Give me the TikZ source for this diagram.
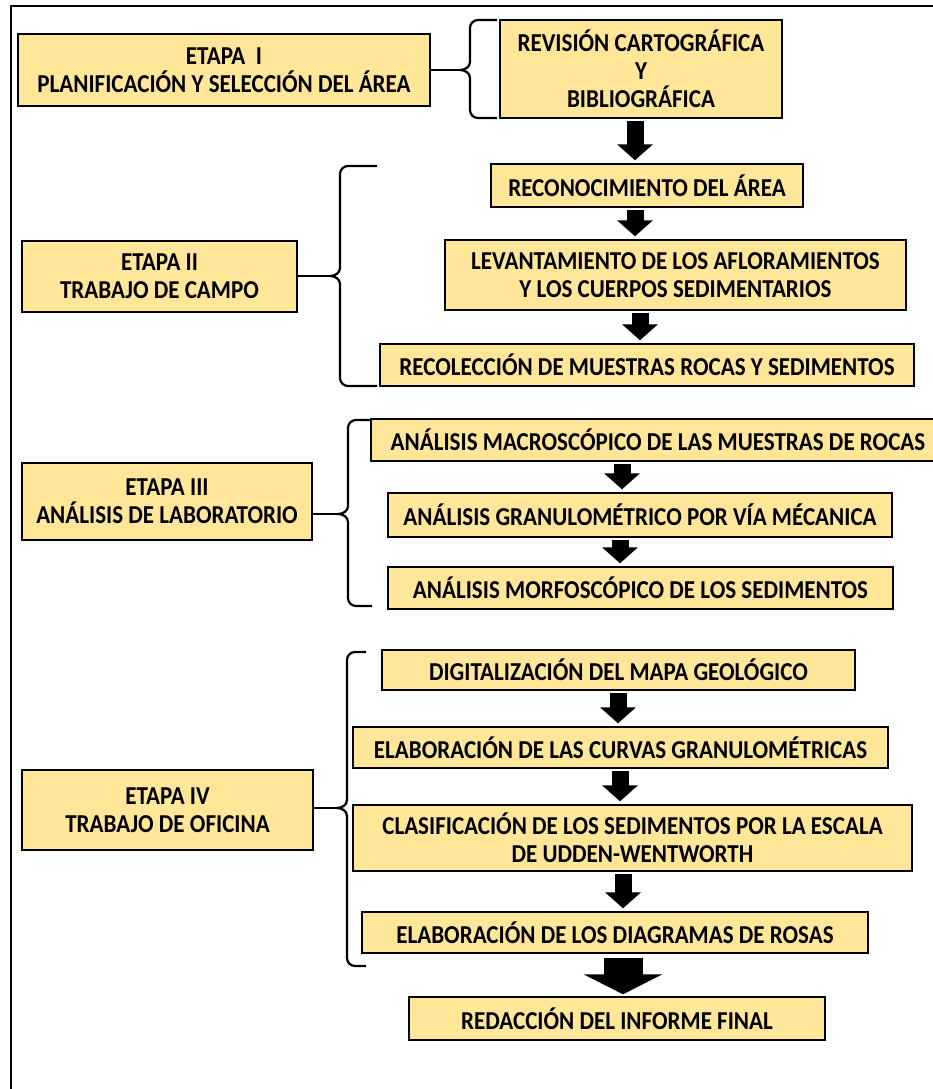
\documentclass[tikz,border=0pt]{standalone}
\usepackage{fontspec}
\setmainfont{Carlito}
\newfontfamily\boxfont[FakeStretch=0.893]{Carlito}
\usetikzlibrary{arrows.meta}
\definecolor{boxfill}{HTML}{FFE699}
\tikzset{
  box/.style={draw=black, fill=boxfill, line width=1.4pt, align=center, inner sep=0pt,
    font=\boxfont\fontsize{25.8}{28}\selectfont\bfseries},
  arr/.style={line width=17pt, -{Triangle[width=35pt,length=16pt]}, shorten >=3pt, shorten <=2pt},
  bigarr/.style={line width=39pt, -{Triangle[width=78pt,length=20pt]}, shorten >=2pt, shorten <=4pt},
  br/.style={line width=2.2pt, black},
  frame/.style={line width=2.4pt, black}
}
\begin{document}
\begin{tikzpicture}[x=1pt,y=-1pt]
\useasboundingbox (0,0) rectangle (933,1089);
\draw[frame] (11,1089) -- (11,6) -- (933,6);
% boxes
\node[box, minimum width=412, minimum height=72] (e1) at (224,70) {ETAPA\ \ I\\PLANIFICACIÓN Y SELECCIÓN DEL ÁREA};
\node[box, minimum width=282, minimum height=98] (rev) at (641,69) {REVISIÓN CARTOGRÁFICA\\Y\\BIBLIOGRÁFICA};
\node[box, minimum width=312, minimum height=43] (rec) at (647,185.5) {RECONOCIMIENTO DEL ÁREA};
\node[box, minimum width=461, minimum height=70] (lev) at (675.5,275) {LEVANTAMIENTO DE LOS AFLORAMIENTOS\\Y LOS CUERPOS SEDIMENTARIOS};
\node[box, minimum width=534, minimum height=42] (rcl) at (647,365) {RECOLECCIÓN DE MUESTRAS ROCAS Y SEDIMENTOS};
\node[box, minimum width=275, minimum height=71] (e2) at (159.5,276.5) {ETAPA II\\TRABAJO DE CAMPO};
\node[box, minimum width=290, minimum height=77] (e3) at (167,501.5) {ETAPA III\\ANÁLISIS DE LABORATORIO};
\node[box, minimum width=574, minimum height=42] (mac) at (658,440) {ANÁLISIS MACROSCÓPICO DE LAS MUESTRAS DE ROCAS};
\node[box, minimum width=504, minimum height=44] (gra) at (640,515) {ANÁLISIS GRANULOMÉTRICO POR VÍA MÉCANICA};
\node[box, minimum width=505, minimum height=42] (mor) at (640.5,588) {ANÁLISIS MORFOSCÓPICO DE LOS SEDIMENTOS};
\node[box, minimum width=291, minimum height=80] (e4) at (167.5,810) {ETAPA IV\\TRABAJO DE OFICINA};
\node[box, minimum width=473, minimum height=40] (dig) at (618.5,670) {DIGITALIZACIÓN DEL MAPA GEOLÓGICO};
\node[box, minimum width=535, minimum height=41] (cur) at (620.5,747.5) {ELABORACIÓN DE LAS CURVAS GRANULOMÉTRICAS};
\node[box, minimum width=559, minimum height=66] (cla) at (632.5,838) {CLASIFICACIÓN DE LOS SEDIMENTOS POR LA ESCALA\\DE UDDEN-WENTWORTH};
\node[box, minimum width=506, minimum height=41] (dia) at (615,932.5) {ELABORACIÓN DE LOS DIAGRAMAS DE ROSAS};
\node[box, minimum width=416, minimum height=43] (red) at (617,1018.5) {REDACCIÓN DEL INFORME FINAL};
% arrows
\draw[arr] (rev.south -| 635,0) -- (rec.north -| 635,0);
\draw[arr] (rec.south -| 635,0) -- (lev.north -| 635,0);
\draw[arr] (lev.south -| 640,0) -- (rcl.north -| 640,0);
\draw[arr] (mac.south -| 622,0) -- (gra.north -| 622,0);
\draw[arr] (gra.south -| 620,0) -- (mor.north -| 620,0);
\draw[arr] (dig.south -| 618,0) -- (cur.north -| 618,0);
\draw[arr] (cur.south -| 620,0) -- (cla.north -| 620,0);
\draw[arr] (cla.south -| 623,0) -- (dia.north -| 623,0);
\draw[bigarr] (dia.south -| 623,0) -- (red.north -| 623,0);
% braces
\coordinate (b1) at (460,70);
\draw[br] (497,20) -- (478,20) to[out=180,in=90] (470,28) -- (470,62) to[out=-90,in=0] (b1) to[out=0,in=90] (470,78) -- (470,110) to[out=-90,in=180] (478,118) -- (497,118);
\draw[br] (e1.east |- b1) -- (b1);
\coordinate (b2) at (330,276);
\draw[br] (377,166) -- (348,166) to[out=180,in=90] (340,174) -- (340,268) to[out=-90,in=0] (b2) to[out=0,in=90] (340,284) -- (340,378) to[out=-90,in=180] (348,386) -- (377,386);
\draw[br] (e2.east |- b2) -- (b2);
\coordinate (b3) at (338,514);
\draw[br] (372,420) -- (356,420) to[out=180,in=90] (348,428) -- (348,506) to[out=-90,in=0] (b3) to[out=0,in=90] (348,522) -- (348,598) to[out=-90,in=180] (356,606) -- (372,606);
\draw[br] (e3.east |- b3) -- (b3);
\coordinate (b4) at (337,808);
\draw[br] (366,652) -- (355,652) to[out=180,in=90] (347,660) -- (347,800) to[out=-90,in=0] (b4) to[out=0,in=90] (347,816) -- (347,958) to[out=-90,in=180] (355,966) -- (366,966);
\draw[br] (e4.east |- b4) -- (b4);
\end{tikzpicture}
\end{document}
